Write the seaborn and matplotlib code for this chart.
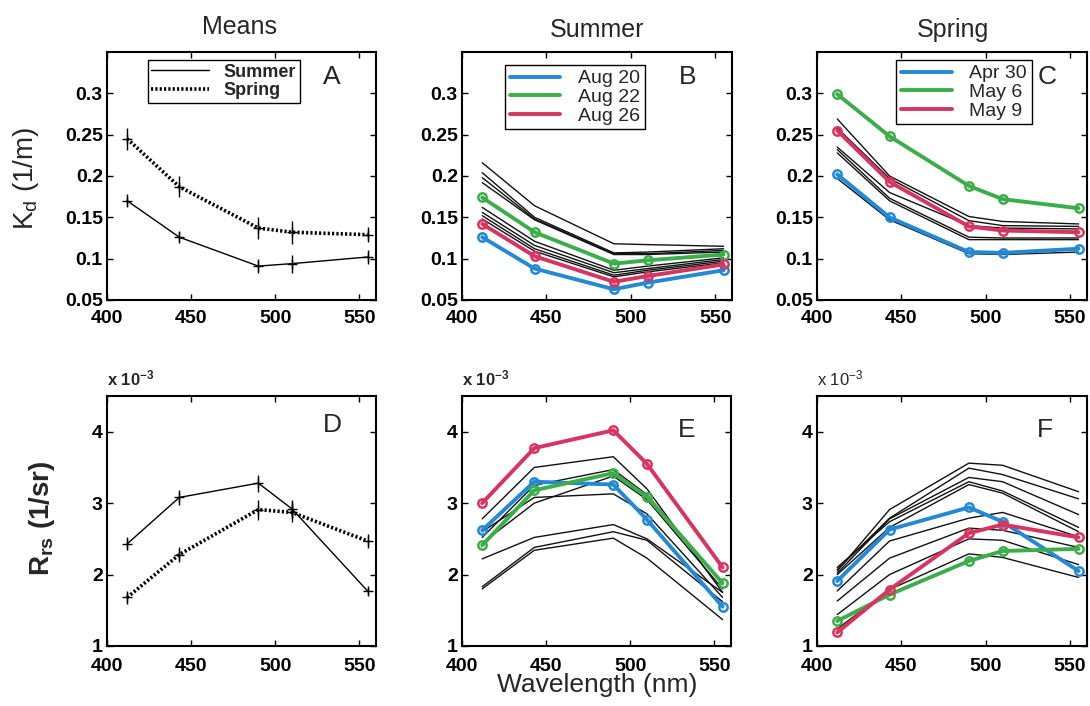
import numpy as np
import pandas as pd
import matplotlib
matplotlib.use("Agg")
import matplotlib.pyplot as plt
import seaborn as sns
from matplotlib.lines import Line2D

sns.set_style("ticks")
plt.rcParams["font.family"] = ["Liberation Sans", "DejaVu Sans"]
plt.rcParams["mathtext.default"] = "regular"

# -- data
wavelength = [412, 443, 490, 510, 555]

# A: mean Kd with error bars
summer_kd_mean = [0.170, 0.126, 0.091, 0.094, 0.102]
summer_kd_err = [0.008, 0.007, 0.008, 0.011, 0.008]
spring_kd_mean = [0.245, 0.187, 0.137, 0.132, 0.129]
spring_kd_err = [0.013, 0.013, 0.013, 0.014, 0.009]

# D: mean Rrs (x 1e-3)
summer_rrs_mean = [2.43, 3.08, 3.28, 2.92, 1.77]
summer_rrs_err = [0.09, 0.10, 0.12, 0.13, 0.06]
spring_rrs_mean = [1.68, 2.28, 2.91, 2.87, 2.47]
spring_rrs_err = [0.09, 0.11, 0.14, 0.14, 0.10]

# B: summer Kd profiles
summer_kd_aug20 = [0.126, 0.088, 0.063, 0.071, 0.086]
summer_kd_aug22 = [0.174, 0.132, 0.094, 0.098, 0.105]
summer_kd_aug26 = [0.142, 0.103, 0.072, 0.079, 0.093]
summer_kd_other = [
    [0.216, 0.164, 0.118, 0.117, 0.115],
    [0.204, 0.150, 0.107, 0.108, 0.112],
    [0.198, 0.148, 0.106, 0.106, 0.110],
    [0.192, 0.147, 0.105, 0.105, 0.108],
    [0.162, 0.121, 0.086, 0.091, 0.101],
    [0.156, 0.116, 0.083, 0.088, 0.099],
    [0.152, 0.112, 0.080, 0.086, 0.097],
    [0.148, 0.109, 0.078, 0.084, 0.095],
]

# C: spring Kd profiles
spring_kd_apr30 = [0.202, 0.150, 0.108, 0.107, 0.112]
spring_kd_may6 = [0.299, 0.248, 0.188, 0.172, 0.161]
spring_kd_may9 = [0.255, 0.193, 0.139, 0.134, 0.132]
spring_kd_other = [
    [0.269, 0.200, 0.151, 0.145, 0.142],
    [0.258, 0.197, 0.146, 0.140, 0.139],
    [0.235, 0.180, 0.140, 0.137, 0.136],
    [0.232, 0.173, 0.126, 0.125, 0.125],
    [0.228, 0.170, 0.123, 0.123, 0.123],
    [0.197, 0.147, 0.106, 0.105, 0.108],
]

# E: summer Rrs profiles (x 1e-3)
summer_rrs_aug20 = [2.62, 3.30, 3.26, 2.77, 1.55]
summer_rrs_aug22 = [2.41, 3.18, 3.42, 3.09, 1.88]
summer_rrs_aug26 = [3.00, 3.77, 4.02, 3.55, 2.10]
summer_rrs_other = [
    [2.78, 3.50, 3.65, 3.20, 1.75],
    [2.52, 3.25, 3.47, 3.12, 1.86],
    [2.44, 3.00, 3.38, 3.05, 1.80],
    [2.60, 3.08, 3.13, 2.85, 1.68],
    [2.22, 2.52, 2.70, 2.50, 1.75],
    [1.83, 2.38, 2.60, 2.48, 1.62],
    [1.80, 2.34, 2.51, 2.23, 1.37],
]

# F: spring Rrs profiles (x 1e-3)
spring_rrs_apr30 = [1.91, 2.63, 2.94, 2.74, 2.05]
spring_rrs_may6 = [1.35, 1.72, 2.19, 2.33, 2.36]
spring_rrs_may9 = [1.19, 1.79, 2.58, 2.70, 2.52]
spring_rrs_other = [
    [2.05, 2.91, 3.56, 3.53, 3.16],
    [2.07, 2.79, 3.49, 3.40, 3.06],
    [2.02, 2.78, 3.36, 3.30, 2.84],
    [2.10, 2.74, 3.30, 3.17, 2.66],
    [2.00, 2.66, 3.26, 3.14, 2.60],
    [1.77, 2.47, 2.79, 2.87, 2.53],
    [1.63, 2.23, 2.65, 2.62, 2.38],
    [1.44, 2.00, 2.50, 2.48, 2.14],
    [1.24, 1.79, 2.29, 2.24, 1.96],
]

summer_dates = ["Aug 20", "Aug 22", "Aug 26"]
spring_dates = ["Apr 30", "May 6", "May 9"]
x_ticks = [400, 450, 500, 550]
kd_ticks = [0.05, 0.1, 0.15, 0.2, 0.25, 0.3]
kd_ticklabels = ["0.05", "0.1", "0.15", "0.2", "0.25", "0.3"]
rrs_ticks = [1, 2, 3, 4]
rrs_ticklabels = ["1", "2", "3", "4"]

BLUE, GREEN, RED = "#2389d6", "#3cae49", "#d8345f"
date_colors = [BLUE, GREEN, RED]

# -- figure layout (pixel based, 1090 x 706)
W, H = 1090, 706
fig = plt.figure(figsize=(W / 100, H / 100), dpi=100)


def make_ax(left, top, right, bottom):
    return fig.add_axes([left / W, 1 - bottom / H, (right - left) / W, (bottom - top) / H])


axA = make_ax(107, 52, 376, 300)
axB = make_ax(462, 52, 732, 300)
axC = make_ax(817, 52, 1087, 300)
axD = make_ax(107, 396, 376, 646)
axE = make_ax(462, 396, 731, 646)
axF = make_ax(817, 396, 1087, 646)


def style_ax(ax, kd=True):
    ax.set_xlim(400, 560)
    ax.set_xticks(x_ticks)
    ax.set_xticklabels([str(t) for t in x_ticks], fontweight="bold", fontsize=14)
    if kd:
        ax.set_ylim(0.05, 0.35)
        ax.set_yticks(kd_ticks)
        ax.set_yticklabels(kd_ticklabels, fontweight="bold", fontsize=14)
    else:
        ax.set_ylim(1, 4.5)
        ax.set_yticks(rrs_ticks)
        ax.set_yticklabels(rrs_ticklabels, fontweight="bold", fontsize=14)
    ax.tick_params(direction="in", top=True, right=True, length=4, width=1,
                   colors="black")
    ax.tick_params(axis="x", pad=7 if kd else 8.5)
    ax.tick_params(axis="y", pad=3)
    for s in ax.spines.values():
        s.set_linewidth(1.5)
        s.set_color("black")
    ax.set_xlabel("")
    ax.set_ylabel("")


def long_df(profiles):
    rows = []
    for i, prof in enumerate(profiles):
        for w, v in zip(wavelength, prof):
            rows.append({"wavelength": w, "value": v, "profile": i})
    return pd.DataFrame(rows)


def profile_panel(ax, others, colored, kd):
    df = long_df(others)
    sns.lineplot(data=df, x="wavelength", y="value", units="profile",
                 estimator=None, color="#111111", lw=1.0, ax=ax, legend=False)
    for vals, col in zip(colored, date_colors):
        sns.lineplot(x=wavelength, y=vals, color=col, lw=2.8, marker="o",
                     markersize=6, markeredgecolor=col, markerfacecolor="none",
                     markeredgewidth=1.8, ax=ax, legend=False)
    style_ax(ax, kd)


# A
axA.errorbar(wavelength, summer_kd_mean, yerr=summer_kd_err, color="black",
             lw=1.0, marker="+", markersize=7, capsize=0, elinewidth=1.0)
axA.errorbar(wavelength, spring_kd_mean, yerr=spring_kd_err, color="black",
             lw=2.6, ls=(0, (0.6, 0.6)), marker="+", markersize=7, capsize=0,
             elinewidth=1.0)
style_ax(axA, True)
leg = axA.legend(handles=[Line2D([], [], color="black", lw=1.0),
                          Line2D([], [], color="black", lw=2.6, ls=(0, (0.6, 0.6)))],
                 labels=["Summer", "Spring"], loc="upper left",
                 bbox_to_anchor=(0.152, 0.968), frameon=True, fancybox=False,
                 framealpha=1, edgecolor="black", borderpad=0.2, labelspacing=0.1,
                 handlelength=3.2, handletextpad=0.8, borderaxespad=0,
                 prop={"weight": "bold", "size": 13})
leg.get_frame().set_linewidth(1.0)

# D
axD.errorbar(wavelength, summer_rrs_mean, yerr=summer_rrs_err, color="black",
             lw=1.0, marker="+", markersize=7, capsize=0, elinewidth=1.0)
axD.errorbar(wavelength, spring_rrs_mean, yerr=spring_rrs_err, color="black",
             lw=2.6, ls=(0, (0.6, 0.6)), marker="+", markersize=7, capsize=0,
             elinewidth=1.0)
style_ax(axD, False)

# B, C, E, F
profile_panel(axB, summer_kd_other, [summer_kd_aug20, summer_kd_aug22, summer_kd_aug26], True)
profile_panel(axC, spring_kd_other, [spring_kd_apr30, spring_kd_may6, spring_kd_may9], True)
profile_panel(axE, summer_rrs_other, [summer_rrs_aug20, summer_rrs_aug22, summer_rrs_aug26], False)
profile_panel(axF, spring_rrs_other, [spring_rrs_apr30, spring_rrs_may6, spring_rrs_may9], False)


def date_legend(ax, labels, anchor):
    handles = [Line2D([], [], color=c, lw=2.8) for c in date_colors]
    lg = ax.legend(handles=handles, labels=labels, loc="upper left",
                   bbox_to_anchor=anchor, frameon=True, fancybox=False,
                   framealpha=1, edgecolor="black", borderpad=0.25,
                   labelspacing=0.05, handlelength=2.6, handletextpad=0.9,
                   borderaxespad=0, prop={"size": 14})
    lg.get_frame().set_linewidth(1.0)


date_legend(axB, summer_dates, (0.159, 0.948))
date_legend(axC, spring_dates, (0.293, 0.968))

# panel letters
for ax, letter, xy in [(axA, "A", (0.836, 0.899)), (axB, "B", (0.837, 0.899)),
                       (axC, "C", (0.852, 0.899)), (axD, "D", (0.836, 0.884)),
                       (axE, "E", (0.837, 0.864)), (axF, "F", (0.844, 0.864))]:
    ax.text(xy[0], xy[1], letter, transform=ax.transAxes, fontsize=19,
            ha="center", va="center")

# x 10^-3 multipliers
for ax, bold in [(axD, True), (axE, True), (axF, False)]:
    ax.text(0.0, 1.03, "x 10$^{-3}$", transform=ax.transAxes, fontsize=12,
            ha="left", va="bottom", fontweight="bold" if bold else "normal")

# column titles
fig.text(240 / W, 1 - 27 / H, "Means", fontsize=18, ha="center", va="center")
fig.text(597 / W, 1 - 30 / H, "Summer", fontsize=18, ha="center", va="center")
fig.text(953 / W, 1 - 30 / H, "Spring", fontsize=18, ha="center", va="center")

# axis labels
fig.text(26 / W, 1 - 178 / H, "K$_d$ (1/m)", fontsize=20, rotation=90,
         ha="center", va="center")
fig.text(42 / W, 1 - 518 / H, "R$_{rs}$ (1/sr)", fontsize=20, rotation=90,
         ha="center", va="center", fontweight="bold")
fig.text(597 / W, 1 - 685 / H, "Wavelength (nm)", fontsize=19, ha="center",
         va="center")

fig.savefig("out.png", dpi=100, facecolor="white")
